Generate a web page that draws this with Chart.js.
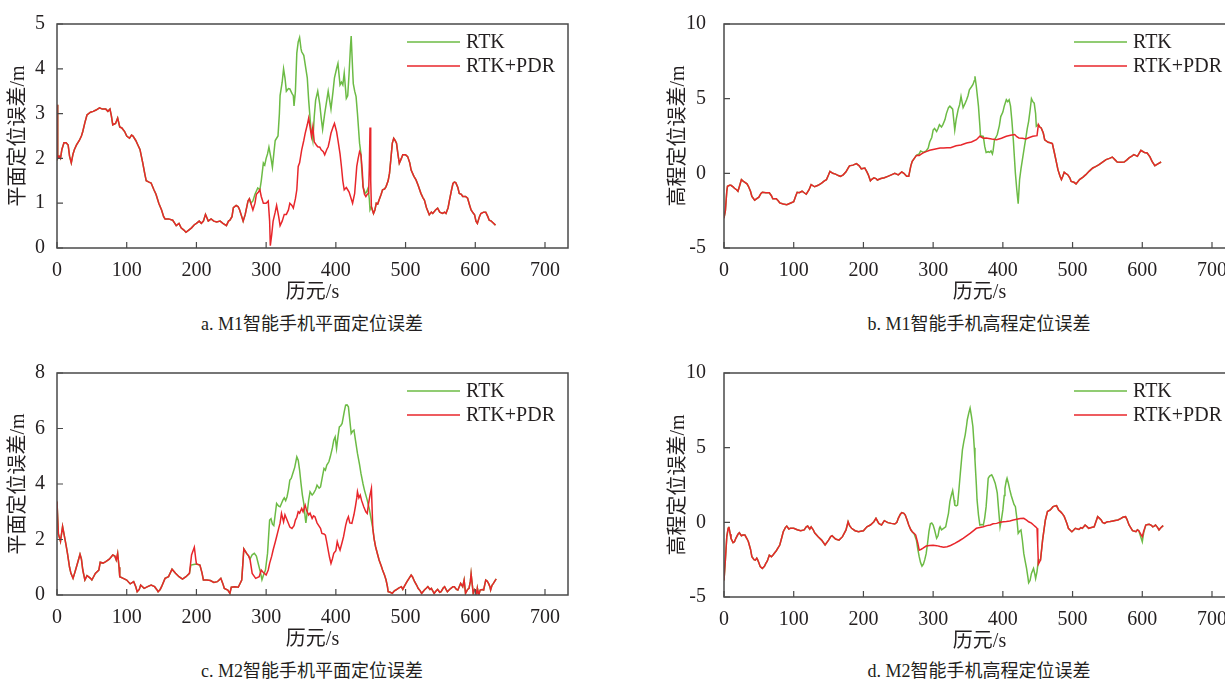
<!DOCTYPE html>
<html>
<head>
<meta charset="utf-8">
<script src="https://cdn.jsdelivr.net/npm/chart.js@4.4.1/dist/chart.umd.min.js"></script>
<style>
  body { margin: 0; background: #fff; width: 1225px; height: 679px; overflow: hidden; position: relative; }
  .box { position: absolute; }
  .cap { position: absolute; width: 400px; text-align: center; font: 18px "Liberation Serif", "Noto Sans CJK SC", serif; color: #231f20; white-space: nowrap; }
</style>
</head>
<body>
<div class="box" id="wa"><canvas id="ca"></canvas></div>
<div class="box" id="wb"><canvas id="cb"></canvas></div>
<div class="box" id="wc"><canvas id="cc"></canvas></div>
<div class="box" id="wd"><canvas id="cd"></canvas></div>
<div class="cap" style="left:112px;top:309px">a. M1智能手机平面定位误差</div>
<div class="cap" style="left:779px;top:309px">b. M1智能手机高程定位误差</div>
<div class="cap" style="left:112px;top:656px">c. M2智能手机平面定位误差</div>
<div class="cap" style="left:779px;top:656px">d. M2智能手机高程定位误差</div>
<script>
const xTicks = [0, 100, 200, 300, 400, 500, 600, 700];
const planeTicksA = [0, 1, 2, 3, 4, 5];
const planeTicksC = [0, 2, 4, 6, 8];
const heightTicks = [-5, 0, 5, 10];
const seriesNames = ['RTK', 'RTK+PDR'];

// [历元 s, 误差 m]
const aPdr = [[0,3.2],[1,2.0],[3,2.05],[5,2.0],[7,2.2],[10,2.35],[13,2.35],[16,2.3],[18,2.05],[20.5,1.9],[23,2.1],[25,2.2],[28,2.3],[32,2.4],[35,2.5],[37,2.6],[40,2.8],[43,2.97],[48,3.03],[52,3.05],[56,3.08],[61,3.13],[65,3.1],[70,3.1],[73,3.05],[76,3.1],[78,2.95],[80,2.75],[84,2.78],[87,2.9],[90,2.7],[93,2.68],[97,2.6],[100,2.5],[104,2.45],[107,2.52],[109,2.5],[113,2.4],[116,2.3],[119,2.2],[123,1.9],[126,1.65],[128,1.5],[132,1.47],[135,1.45],[139,1.3],[142,1.2],[146,1.0],[150,0.85],[153,0.7],[155,0.65],[160,0.65],[166,0.62],[169,0.55],[171,0.5],[175,0.55],[178,0.45],[182,0.4],[185,0.35],[189,0.4],[193,0.45],[197,0.52],[200,0.55],[204,0.6],[207,0.55],[210,0.6],[213,0.75],[217,0.6],[221,0.65],[225,0.6],[229,0.58],[234,0.6],[238,0.55],[243,0.5],[246,0.6],[248,0.62],[251,0.7],[253,0.9],[257,0.95],[260,0.92],[262,0.85],[265,0.7],[267,0.6],[270,0.75],[272,0.9],[274,1.05],[276,1.1],[278,1.0],[281,0.85],[284,1.0],[286,1.2],[289,1.25],[291,1.3],[293,1.15],[296,1.0],[300,1.0],[303,1.05],[305,0.6],[306,0.05],[308,0.3],[310,0.6],[313,0.8],[315,0.95],[318,0.7],[320,0.5],[323,0.6],[326,0.75],[329,0.75],[332,0.85],[334,1.0],[337,0.95],[339,0.89],[342,1.1],[344,1.3],[346,1.82],[348,1.9],[351,2.19],[354,2.4],[356,2.56],[359,2.75],[361,2.9],[363,2.7],[365,2.49],[367,2.7],[369,2.37],[372,2.3],[374,2.26],[377,2.25],[379,2.19],[382,2.15],[384,2.08],[387,2.2],[389,2.26],[391,2.4],[393,2.56],[396,2.7],[398,2.78],[401,2.6],[403,2.41],[406,2.1],[408,1.82],[410,1.5],[412,1.3],[415,1.35],[417,1.3],[419,1.25],[421,1.15],[424,1.0],[427,1.22],[430,1.82],[432,2.0],[434,2.15],[436,2.08],[438,1.7],[439,1.37],[441,1.2],[443,1.15],[445,1.2],[447,1.22],[448,1.8],[449,2.69],[450,1.5],[451,0.92],[454,0.77],[456,0.85],[458,1.0],[460,0.98],[462,1.07],[465,1.2],[467,1.3],[470,1.32],[472,1.37],[475,1.5],[477,1.67],[479,2.0],[481,2.34],[483,2.45],[485,2.4],[487,2.34],[489,2.1],[491,1.89],[494,2.0],[496,2.08],[500,2.08],[503,2.04],[506,1.9],[508,1.74],[512,1.6],[515,1.52],[518,1.4],[522,1.22],[525,1.12],[527,1.07],[530,0.9],[534,0.74],[537,0.8],[539,0.77],[543,0.85],[546,0.89],[549,0.8],[553,0.77],[556,0.8],[558,0.77],[561,0.9],[563,1.07],[566,1.3],[568,1.44],[570,1.47],[572,1.46],[575,1.35],[577,1.22],[580,1.2],[582,1.15],[586,1.15],[589,1.11],[592,0.95],[594,0.85],[597,0.78],[599,0.74],[601,0.6],[603,0.55],[606,0.7],[608,0.77],[612,0.8],[615,0.8],[618,0.7],[620,0.62],[623,0.6],[625,0.57],[629,0.51]];
// RTK only where it leaves the RTK+PDR curve
const aRtkGap = [[278,1.0],[281,1.05],[284,1.2],[288,1.34],[291,1.3],[293,1.5],[296,1.9],[298,1.85],[300,2.0],[302,2.1],[304,2.25],[307,2.0],[309,1.8],[311,2.1],[313,2.4],[315,2.45],[317,2.5],[319,3.0],[320,3.4],[323,3.7],[325,4.0],[327,3.8],[329,3.5],[332,3.56],[334,3.55],[337,3.45],[339,3.4],[340,3.17],[342,3.5],[344,4.35],[346,4.6],[348,4.7],[350,4.45],[351,4.38],[354,4.3],[357,4.0],[359,3.8],[361,3.3],[364,2.7],[367,2.4],[369,2.93],[371,3.3],[374,3.5],[377,3.2],[379,2.9],[381,2.65],[384,3.0],[387,3.3],[389,3.5],[391,3.3],[393,3.1],[396,3.5],[398,3.8],[401,4.0],[403,4.12],[406,3.64],[408,3.7],[410,3.64],[412,3.9],[415,3.34],[417,3.4],[419,3.9],[421,4.5],[422,4.73],[424,4.0],[425,3.67],[427,3.5],[429,3.38],[431,3.0],[434,2.34],[436,2.1],[437,1.8],[439,1.37],[442,1.22],[444,1.25],[446,1.33],[448,1.1],[449,0.85],[451,0.92]];

const bPdr = [[0,-3.0],[2,-2.5],[4,-1.2],[5,-0.87],[8,-0.8],[10,-0.8],[13,-0.9],[15,-1.0],[18,-1.1],[20,-1.2],[22,-0.9],[25,-0.42],[27,-0.5],[30,-0.6],[33,-0.7],[35,-0.87],[38,-1.2],[40,-1.54],[44,-1.8],[47,-1.7],[50,-1.6],[53,-1.35],[55,-1.27],[60,-1.3],[65,-1.3],[68,-1.5],[70,-1.7],[75,-1.7],[78,-1.85],[80,-1.98],[85,-2.05],[90,-2.1],[95,-2.0],[100,-1.9],[103,-1.5],[105,-1.27],[108,-1.3],[112,-1.2],[115,-1.3],[118,-1.4],[122,-1.1],[125,-0.76],[130,-0.9],[135,-0.8],[140,-0.65],[144,-0.5],[147,-0.42],[150,-0.1],[152,0.13],[156,0.0],[160,-0.05],[164,-0.15],[167,-0.2],[171,-0.1],[175,0.1],[178,0.35],[180,0.5],[185,0.55],[190,0.65],[194,0.5],[197,0.3],[202,0.35],[205,0.1],[207,-0.1],[210,-0.5],[212,-0.4],[215,-0.3],[218,-0.35],[220,-0.45],[225,-0.35],[230,-0.3],[235,-0.2],[240,-0.1],[245,0.0],[250,-0.1],[255,0.1],[258,0.0],[262,-0.2],[265,-0.2],[268,0.5],[270,0.8],[273,1.0],[276,1.2],[280,1.2],[285,1.35],[290,1.45],[295,1.55],[300,1.6],[305,1.65],[310,1.7],[315,1.7],[320,1.72],[325,1.72],[333,1.85],[340,1.9],[348,2.03],[355,2.1],[362,2.25],[367,2.48],[372,2.35],[376,2.37],[384,2.3],[391,2.25],[398,2.35],[405,2.48],[411,2.55],[417,2.6],[420,2.45],[423,2.37],[428,2.35],[433,2.3],[438,2.4],[443,2.48],[449,2.52],[451,3.26],[453,3.1],[455,3.04],[458,2.7],[460,2.25],[465,2.08],[468,2.05],[471,1.99],[474,1.36],[477,0.7],[479,0.25],[482,-0.2],[484,-0.42],[486,-0.2],[488,0.07],[490,0.0],[493,-0.09],[496,-0.3],[498,-0.54],[502,-0.6],[505,-0.71],[510,-0.42],[515,-0.25],[519,-0.09],[524,0.15],[529,0.36],[533,0.45],[538,0.58],[543,0.75],[548,0.92],[553,1.0],[557,1.09],[561,0.9],[564,0.76],[569,0.75],[574,0.76],[578,0.9],[581,1.03],[585,1.15],[588,1.25],[593,1.14],[598,1.54],[603,1.4],[607,1.36],[611,1.1],[614,0.8],[618,0.51],[623,0.65],[627,0.76]];
const bRtkGap = [[276,1.2],[280,1.3],[282,1.5],[286,1.4],[290,1.5],[293,1.7],[295,2.1],[298,2.4],[300,2.9],[302,3.0],[305,2.8],[307,3.0],[309,3.26],[312,3.1],[314,3.26],[317,3.6],[319,4.0],[322,4.4],[324,4.5],[326,4.4],[328,4.3],[331,2.9],[333,3.6],[336,4.3],[338,4.6],[340,5.15],[343,4.4],[346,4.7],[348,4.93],[350,5.2],[352,5.6],[355,5.8],[357,5.94],[359,6.2],[360,6.5],[362,5.8],[365,4.5],[367,3.2],[368,2.48],[370,2.5],[372,2.48],[374,1.8],[376,1.4],[379,1.45],[381,1.4],[383,1.5],[385,1.3],[386,1.5],[388,2.25],[390,2.4],[392,2.6],[395,3.2],[397,3.8],[400,4.1],[402,4.5],[405,4.93],[407,4.8],[409,4.93],[411,4.5],[413,3.5],[415,2.25],[418,0.0],[420,-1.1],[422,-2.03],[424,-0.42],[426,0.3],[428,0.9],[431,1.8],[433,2.37],[435,3.0],[437,3.48],[439,4.2],[441,5.0],[443,4.8],[445,4.7],[447,4.0],[448,3.15],[451,3.26]];

const cPdr = [[0,3.37],[2,2.2],[5,1.93],[8,2.47],[10,2.2],[13,1.8],[15,1.5],[18,1.0],[20,0.78],[23,0.6],[26,0.85],[30,1.2],[33,1.47],[35,1.3],[37,0.9],[40,0.54],[43,0.7],[45,0.66],[48,0.6],[50,0.54],[55,0.78],[60,0.9],[62,1.18],[66,1.15],[70,1.2],[75,1.29],[80,1.44],[83,1.4],[85,1.26],[87,1.5],[89,1.0],[90,0.66],[95,0.6],[100,0.54],[105,0.4],[110,0.48],[113,0.3],[115,0.12],[118,0.2],[120,0.36],[125,0.24],[130,0.3],[135,0.36],[140,0.3],[143,0.2],[145,0.12],[148,0.2],[150,0.3],[155,0.6],[160,0.66],[165,0.93],[170,0.78],[175,0.66],[180,0.57],[185,0.66],[190,0.78],[193,1.44],[197,1.72],[199,1.3],[200,1.12],[205,1.08],[208,0.8],[210,0.54],[215,0.54],[220,0.52],[225,0.45],[230,0.48],[235,0.6],[238,0.4],[240,0.24],[245,0.18],[248,0.06],[250,0.28],[255,0.3],[260,0.28],[265,0.54],[268,1.66],[272,1.5],[275,1.4],[277,1.26],[280,0.78],[285,0.6],[290,0.66],[293,0.9],[295,0.84],[300,0.72],[303,0.9],[305,1.14],[308,1.4],[310,1.62],[313,1.9],[315,2.1],[318,2.4],[320,2.59],[322,2.94],[325,2.64],[327,2.89],[330,2.7],[334,2.45],[337,2.4],[340,2.5],[342,2.7],[344,2.8],[346,3.0],[348,2.95],[351,3.12],[353,3.0],[356,3.24],[358,3.05],[361,2.88],[363,2.95],[366,2.76],[368,2.85],[370,2.82],[373,2.6],[375,2.52],[378,2.4],[380,2.22],[383,2.2],[385,2.16],[387,1.9],[389,1.62],[391,1.35],[393,1.14],[395,1.3],[397,1.5],[400,1.6],[402,1.92],[404,1.75],[406,1.62],[409,1.9],[411,2.1],[414,2.5],[416,2.7],[418,2.82],[420,2.6],[423,2.58],[426,2.9],[428,3.18],[430,3.5],[431,3.72],[433,3.5],[435,3.6],[437,3.4],[440,3.18],[443,3.0],[445,2.94],[447,3.3],[449,3.6],[451,3.84],[453,2.4],[455,2.0],[457,1.74],[460,1.45],[462,1.26],[465,1.05],[467,0.9],[470,0.7],[472,0.54],[474,0.3],[475,0.12],[478,0.1],[481,0.06],[484,0.15],[486,0.18],[490,0.25],[494,0.3],[496,0.2],[498,0.3],[502,0.48],[505,0.6],[508,0.72],[510,0.65],[513,0.48],[516,0.35],[518,0.24],[521,0.15],[523,0.06],[525,0.12],[527,0.18],[530,0.25],[532,0.3],[535,0.2],[537,0.24],[539,0.15],[541,0.06],[544,0.15],[546,0.2],[549,0.1],[551,0.12],[554,0.25],[556,0.3],[558,0.2],[560,0.12],[563,0.2],[565,0.24],[568,0.3],[570,0.3],[573,0.2],[575,0.18],[577,0.3],[579,0.42],[582,0.3],[584,0.54],[586,0.06],[589,0.2],[591,0.24],[593,0.5],[594,0.76],[596,0.3],[597,0.06],[599,0.2],[600,0.18],[602,0.05],[603,0.25],[605,0.0],[607,0.18],[610,0.2],[612,0.18],[615,0.54],[617,0.5],[619,0.42],[621,0.3],[622,0.18],[624,0.35],[626,0.42],[628,0.5],[630,0.58]];
const cRtkGap1 = [[190,0.78],[192,1.08],[196,1.1],[200,1.12]];
const cRtkGap2 = [[275,1.4],[277,1.3],[280,1.45],[283,1.5],[286,1.4],[289,1.1],[292,0.8],[294,0.55],[296,0.7],[299,0.9],[302,1.5],[305,2.7],[307,2.75],[309,2.55],[311,2.5],[313,2.9],[315,3.3],[318,3.2],[320,3.18],[322,3.3],[324,3.42],[326,3.5],[328,3.4],[330,3.54],[332,3.8],[334,4.14],[336,4.2],[339,4.44],[341,4.6],[344,4.98],[346,4.86],[348,4.5],[350,4.02],[352,3.6],[354,3.3],[356,2.8],[357,2.6],[359,3.0],[361,3.42],[363,3.72],[366,3.6],[368,3.66],[371,3.8],[373,3.96],[376,3.85],[378,3.9],[381,4.3],[383,4.56],[385,4.5],[387,4.68],[390,4.8],[392,4.98],[395,5.3],[397,5.58],[399,5.7],[401,5.28],[403,5.7],[405,6.06],[407,6.1],[409,6.18],[412,6.6],[414,6.84],[416,6.85],[418,6.78],[420,6.3],[422,5.82],[424,5.9],[426,5.94],[428,5.6],[431,5.1],[434,4.7],[436,4.38],[439,4.0],[441,3.78],[443,3.6],[445,3.42],[448,3.1],[450,2.82],[453,2.4]];

const dPdr = [[0,-3.9],[2,-2.5],[4,-0.96],[6,-0.4],[7,-0.3],[9,-0.8],[10,-1.07],[13,-1.36],[15,-1.3],[17,-1.07],[20,-0.8],[22,-0.7],[25,-0.9],[27,-0.85],[30,-0.85],[33,-1.1],[35,-1.3],[38,-1.8],[40,-2.3],[43,-2.5],[45,-2.53],[47,-2.4],[48,-2.48],[50,-2.7],[52,-2.97],[55,-3.09],[58,-2.95],[60,-2.75],[62,-2.6],[65,-2.2],[68,-2.3],[70,-2.2],[75,-1.9],[80,-1.52],[83,-1.0],[85,-0.63],[88,-0.35],[90,-0.25],[93,-0.45],[95,-0.4],[100,-0.4],[105,-0.5],[110,-0.56],[115,-0.51],[118,-0.3],[120,-0.25],[123,-0.45],[125,-0.3],[128,-0.5],[130,-0.7],[135,-0.96],[140,-1.19],[145,-1.52],[150,-1.19],[153,-0.95],[155,-0.9],[160,-1.12],[165,-1.19],[170,-0.96],[175,-0.51],[178,0.04],[180,-0.2],[183,-0.4],[188,-0.56],[193,-0.63],[196,-0.6],[200,-0.56],[205,-0.3],[210,-0.18],[215,0.04],[218,0.27],[222,-0.07],[226,-0.18],[230,0.11],[235,-0.02],[240,-0.07],[245,-0.11],[248,0.0],[250,0.27],[253,0.55],[255,0.65],[258,0.6],[260,0.49],[263,0.1],[265,-0.18],[268,-0.5],[270,-0.63],[273,-0.75],[275,-0.85],[278,-1.4],[280,-1.86],[283,-1.8],[285,-1.75],[290,-1.59],[295,-1.55],[300,-1.54],[305,-1.56],[310,-1.62],[315,-1.66],[320,-1.63],[325,-1.55],[331,-1.41],[337,-1.25],[343,-1.07],[348,-0.9],[353,-0.74],[358,-0.55],[362,-0.4],[367,-0.35],[372,-0.3],[377,-0.22],[382,-0.18],[386,-0.1],[391,-0.07],[396,0.0],[401,0.04],[405,0.05],[410,0.09],[415,0.15],[420,0.2],[425,0.25],[430,0.27],[434,0.15],[437,0.04],[441,-0.05],[444,-0.18],[447,-0.3],[449,-0.4],[450,-1.5],[451,-2.8],[454,-2.53],[457,-1.19],[459,-0.5],[461,0.16],[464,0.72],[468,0.83],[472,1.05],[475,1.1],[477,1.12],[480,0.83],[483,0.7],[485,0.6],[488,0.4],[490,0.16],[492,-0.1],[494,-0.4],[497,-0.55],[499,-0.63],[502,-0.5],[504,-0.4],[507,-0.45],[509,-0.47],[512,-0.35],[514,-0.4],[516,-0.3],[518,-0.18],[521,-0.3],[523,-0.4],[527,-0.35],[531,-0.3],[534,0.1],[536,0.38],[538,0.3],[541,0.16],[543,0.0],[546,-0.07],[548,0.0],[550,0.04],[554,0.05],[558,0.09],[561,0.12],[565,0.16],[569,0.25],[572,0.34],[576,0.38],[578,0.2],[581,-0.18],[584,-0.4],[586,-0.56],[589,-0.6],[591,-0.63],[593,-0.5],[595,-0.56],[598,-0.8],[600,-0.96],[602,-0.6],[605,-0.18],[608,-0.15],[610,-0.13],[613,-0.2],[615,-0.3],[617,-0.25],[619,-0.18],[622,-0.35],[624,-0.51],[626,-0.4],[628,-0.3],[630,-0.22]];
const dRtkGap = [[273,-0.8],[276,-1.2],[278,-1.8],[280,-2.3],[282,-2.7],[284,-2.93],[286,-2.8],[288,-2.5],[290,-2.1],[292,-1.4],[294,-0.6],[296,-0.1],[298,-0.05],[300,-0.18],[302,-0.5],[305,-1.07],[307,-0.9],[309,-0.4],[310,-0.3],[312,-0.5],[315,-0.4],[318,-0.3],[320,0.16],[322,0.6],[324,1.39],[326,1.8],[328,2.13],[330,1.5],[331,1.16],[333,1.1],[335,1.16],[337,2.2],[339,3.29],[342,4.85],[344,5.4],[346,5.86],[348,6.5],[349,6.87],[351,7.3],[353,7.65],[355,7.1],[357,6.42],[359,5.0],[360,4.18],[362,2.5],[363,1.5],[365,0.5],[367,-0.18],[370,-0.15],[372,-0.18],[374,0.3],[376,1.05],[378,2.3],[379,2.95],[381,3.1],[384,3.18],[386,3.0],[389,2.62],[391,2.2],[392,1.95],[394,0.8],[396,-0.3],[398,0.2],[400,0.83],[402,1.8],[403,2.28],[405,2.8],[406,2.95],[408,2.6],[410,2.17],[412,1.8],[414,1.5],[416,1.2],[418,1.05],[420,0.3],[422,-0.74],[424,-0.6],[426,-0.51],[428,-1.2],[430,-2.08],[432,-2.6],[434,-3.09],[436,-3.7],[437,-4.05],[439,-3.9],[441,-3.42],[443,-3.2],[444,-3.09],[446,-3.5],[447,-3.76],[449,-3.3],[451,-2.53],[454,-2.53]];
const dRtkGap2 = [[595,-0.56],[598,-1.0],[600,-1.3],[602,-0.7],[605,-0.18]];

function withGap(base, gap) {
  const t0 = gap[0][0], t1 = gap[gap.length - 1][0];
  return base.filter(p => p[0] < t0).concat(gap, base.filter(p => p[0] > t1));
}
const toXY = arr => arr.map(p => ({ x: p[0], y: p[1] }));

const FONT = '"Liberation Serif", "Times New Roman", "Noto Sans CJK SC", serif';
const TXT = '#231f20';
const GREEN = '#6cbb45';
const RED = '#e8262b';

const frame = {
  id: 'frame',
  afterDraw(chart) {
    const { ctx, chartArea: a, scales } = chart;
    ctx.save();
    ctx.strokeStyle = '#4a4a4a';
    ctx.lineWidth = 1.5;
    ctx.strokeRect(a.left, a.top, a.right - a.left, a.bottom - a.top);
    ctx.lineWidth = 1.2;
    ctx.beginPath();
    scales.x.ticks.forEach(t => {
      const px = scales.x.getPixelForValue(t.value);
      ctx.moveTo(px, a.bottom); ctx.lineTo(px, a.bottom - 6);
    });
    scales.y.ticks.forEach(t => {
      const py = scales.y.getPixelForValue(t.value);
      ctx.moveTo(a.left, py); ctx.lineTo(a.left + 6, py);
    });
    ctx.stroke();
    // legend, RTK first
    const order = [1, 0];
    ctx.font = '20px ' + FONT;
    ctx.textBaseline = 'middle';
    ctx.fillStyle = TXT;
    order.forEach((di, row) => {
      const ds = chart.data.datasets[di];
      const y = a.top + 18 + row * 24;
      ctx.strokeStyle = ds.borderColor;
      ctx.lineWidth = 1.5;
      ctx.beginPath();
      ctx.moveTo(a.left + 350, y); ctx.lineTo(a.left + 403, y);
      ctx.stroke();
      ctx.fillText(ds.label, a.left + 409, y + 1);
    });
    ctx.restore();
  }
};

function makeChart(id, wrap, box, pdr, rtk, yMin, yMax, yTicks, yTitle) {
  const w = document.getElementById(wrap);
  w.style.left = box.left + 'px';
  w.style.top = box.top + 'px';
  w.style.width = box.w + 'px';
  w.style.height = box.h + 'px';
  new Chart(document.getElementById(id), {
    type: 'line',
    data: {
      datasets: [
        { label: seriesNames[1], data: toXY(pdr), borderColor: RED, borderWidth: 1.5, pointRadius: 0, tension: 0 },
        { label: seriesNames[0], data: toXY(rtk), borderColor: GREEN, borderWidth: 1.5, pointRadius: 0, tension: 0 }
      ]
    },
    options: {
      responsive: true,
      maintainAspectRatio: false,
      animation: false,
      events: [],
      layout: { padding: { top: box.padTop, right: box.padRight, left: 0, bottom: 0 } },
      plugins: { legend: { display: false }, tooltip: { enabled: false } },
      scales: {
        x: {
          type: 'linear', min: 0, max: 733,
          afterBuildTicks: s => { s.ticks = xTicks.map(v => ({ value: v })); },
          afterFit: s => { s.height = box.xH; },
          grid: { display: false },
          border: { display: false },
          ticks: { color: TXT, font: { family: FONT, size: 20 }, padding: 3, maxRotation: 0 },
          title: { display: true, text: '历元/s', color: TXT, font: { family: FONT, size: 20, lineHeight: 1 }, padding: { top: 0, bottom: 2 } }
        },
        y: {
          min: yMin, max: yMax,
          afterBuildTicks: s => { s.ticks = yTicks.map(v => ({ value: v })); },
          afterFit: s => { s.width = box.yW; },
          grid: { display: false },
          border: { display: false },
          ticks: { color: TXT, font: { family: FONT, size: 20 }, padding: box.tickPad },
          title: { display: true, text: yTitle, color: TXT, font: { family: FONT, size: 20, lineHeight: 1 }, padding: { top: 9, bottom: 0 } }
        }
      }
    },
    plugins: [frame]
  });
}

makeChart('ca', 'wa', { left: 0, top: 0, w: 600, h: 305, padTop: 24, padRight: 32, yW: 57, xH: 57, tickPad: 4 },
  aPdr, withGap(aPdr, aRtkGap), 0, 5, planeTicksA, '平面定位误差/m');
makeChart('cb', 'wb', { left: 660, top: 0, w: 600, h: 305, padTop: 24, padRight: 25, yW: 64, xH: 57, tickPad: 10 },
  bPdr, withGap(bPdr, bRtkGap), -5, 10, heightTicks, '高程定位误差/m');
makeChart('cc', 'wc', { left: 0, top: 349, w: 600, h: 303, padTop: 24, padRight: 32, yW: 57, xH: 57, tickPad: 4 },
  cPdr, withGap(withGap(cPdr, cRtkGap1), cRtkGap2), 0, 8, planeTicksC, '平面定位误差/m');
makeChart('cd', 'wd', { left: 660, top: 349, w: 600, h: 305, padTop: 24, padRight: 25, yW: 64, xH: 57, tickPad: 10 },
  dPdr, withGap(withGap(dPdr, dRtkGap), dRtkGap2), -5, 10, heightTicks, '高程定位误差/m');
</script>
</body>
</html>
